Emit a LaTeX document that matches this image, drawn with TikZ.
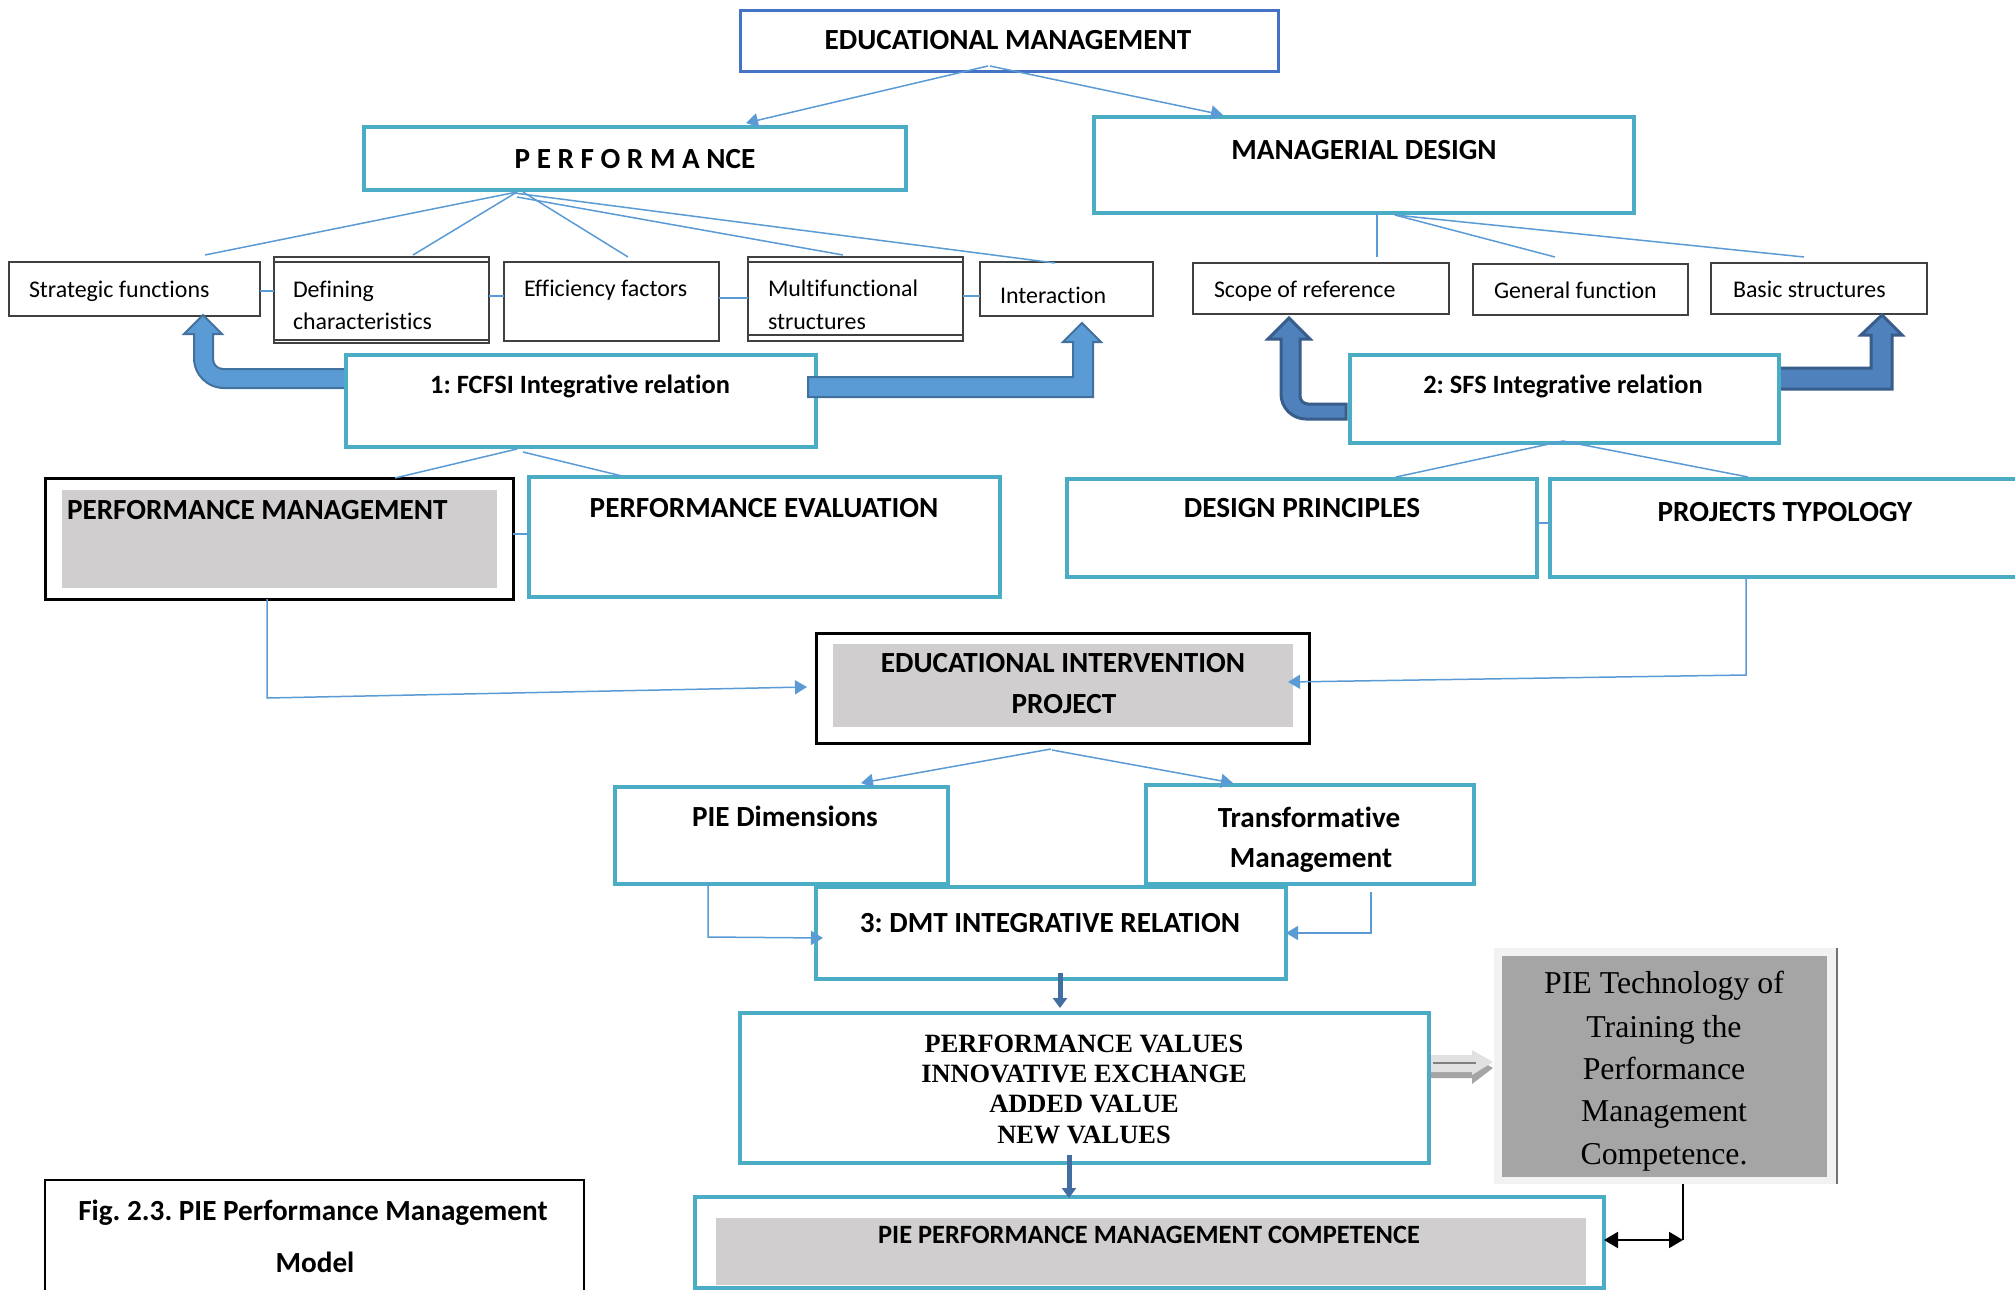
\documentclass[tikz,border=0pt]{standalone}
\usepackage{fontspec}
\setmainfont[Ligatures=NoCommon]{Carlito}
\newfontfamily\tnr{Liberation Serif}
\usetikzlibrary{arrows.meta,calc}
\frenchspacing
\definecolor{teal1}{HTML}{4BACC6}
\definecolor{emblue}{HTML}{4472C4}
\definecolor{conn}{HTML}{5B9BD5}
\definecolor{bfill}{HTML}{5B9BD5}
\definecolor{bdraw}{HTML}{41719C}
\definecolor{dfill}{HTML}{4F81BD}
\definecolor{ddraw}{HTML}{385D8A}
\definecolor{lgray}{HTML}{D0CECE}
\definecolor{mgray}{HTML}{A5A5A5}
\definecolor{pgray}{HTML}{F2F2F2}
\definecolor{boxline}{HTML}{404040}
\newcommand\mkbox[6]{%
  \pgfmathsetmacro\mkbw{(#5-#3)*0.5}%
  \pgfmathsetmacro\mkbh{(#6-#4)*0.5}%
  \pgfmathsetmacro\mkbx{(#3+#5)/2}%
  \pgfmathsetmacro\mkby{(#4+#6)/2}%
  \node[#1,minimum width=\mkbw pt,minimum height=\mkbh pt] (#2) at (\mkbx,\mkby) {};}
\begin{document}
\begin{tikzpicture}[x=0.5pt,y=-0.5pt,
  every node/.style={inner sep=0pt,outer sep=0pt,rectangle},
  tealbox/.style={draw=teal1,line width=2.25pt},
  embox/.style={draw=emblue,line width=1.5pt},
  thinbox/.style={draw=boxline,line width=1pt},
  blackbox/.style={draw=black,line width=1.5pt},
  graybox/.style={fill=lgray},
  figbox/.style={draw=black,line width=1pt},
  piebox/.style={fill=pgray},
  pieinner/.style={fill=mgray},
  thinline/.style={draw=boxline,line width=1pt},
  conline/.style={draw=conn,line width=0.75pt},
  conarrow/.style={conline,-{Triangle[length=6pt,width=7pt]}},
  linkline/.style={draw=conn,line width=1.2pt},
  hd/.style={font=\fontsize{14.6}{17}\selectfont\bfseries,anchor=base},
  mid/.style={font=\fontsize{13.2}{16}\selectfont\bfseries,anchor=base},
  sm/.style={font=\fontsize{11.95}{14}\selectfont,anchor=base west},
  tv/.style={font=\tnr\fontsize{13.2}{15}\selectfont\bfseries,anchor=base},
  tt/.style={font=\tnr\fontsize{15.9}{19}\selectfont,anchor=base},
  blockA/.style={fill=bfill,draw=bdraw,line width=1pt},
  blockB/.style={fill=dfill,draw=ddraw,line width=1.5pt},
  downarrow/.style={draw=dfill!85!black,line width=2.5pt,-{Triangle[length=5pt,width=7pt]}}
]
\useasboundingbox (0,0) rectangle (2015,1290);
\clip (0,0) rectangle (2015,1290);
\fill[white] (0,0) rectangle (2015,1290);

% ---------- boxes ----------
\mkbox{embox}{em}{740}{10}{1278}{71}
\mkbox{tealbox}{perf}{364}{127}{906}{190}
\mkbox{tealbox}{md}{1094}{117}{1634}{213}
\mkbox{thinbox}{sf}{9}{262}{260}{316}
\mkbox{thinbox}{dc}{274}{257}{489}{343}
\mkbox{thinbox}{ef}{504}{262}{719}{341}
\mkbox{thinbox}{mf}{748}{257}{963}{341}
\mkbox{thinbox}{ia}{980}{262}{1153}{316}
\mkbox{thinbox}{sr}{1193}{263}{1449}{314}
\mkbox{thinbox}{gf}{1473}{264}{1688}{315}
\mkbox{thinbox}{bs}{1711}{263}{1927}{314}
\draw[thinline] ($(dc.north west)+(0,5)$) -- ($(dc.north east)+(0,5)$);
\draw[thinline] ($(dc.south west)+(0,-3)$) -- ($(dc.south east)+(0,-3)$);
\draw[thinline] ($(mf.north west)+(0,5)$) -- ($(mf.north east)+(0,5)$);
\draw[thinline] ($(mf.south west)+(0,-6)$) -- ($(mf.south east)+(0,-6)$);

% block arrows (left side, behind boxes)
\path[blockA] (346,369) -- (223,369) to[out=180,in=-90] (213,359) -- (213,334) -- (222,334) -- (203,315) -- (184,334) -- (194,334) -- (194,358) to[out=-90,in=180] (224,388) -- (346,388) -- cycle;
\path[blockB] (1346,404) -- (1308,404) to[out=180,in=-90] (1300,396) -- (1300,339) -- (1310,339) -- (1289,318) -- (1268,339) -- (1281,339) -- (1281,394) to[out=-90,in=180] (1306,419) -- (1346,419) -- cycle;
\path[blockB] (1779,368) -- (1871,368) -- (1871,335) -- (1861,335) -- (1882,315) -- (1902,335) -- (1892,335) -- (1892,389) -- (1779,389) -- cycle;

\mkbox{tealbox}{fc}{346}{355}{816}{447}
\mkbox{tealbox}{sfs}{1350}{355}{1779}{443}
\path[blockA] (808,377) -- (1073,377) -- (1073,342) -- (1063,342) -- (1082,323) -- (1101,342) -- (1093,342) -- (1093,397) -- (808,397) -- cycle;

\mkbox{blackbox}{pm}{45}{478}{513}{599}
\mkbox{graybox}{pmIn}{62}{490}{497}{588}
\mkbox{tealbox}{pe}{529}{477}{1000}{597}
\mkbox{tealbox}{dp}{1067}{479}{1537}{577}
\mkbox{tealbox}{pt}{1550}{479}{2030}{577}
\mkbox{blackbox}{eip}{816}{633}{1309}{743}
\mkbox{graybox}{eipIn}{833}{644}{1293}{727}
\mkbox{tealbox}{pd}{615}{787}{948}{884}
\mkbox{tealbox}{tm}{1146}{785}{1474}{884}
\mkbox{tealbox}{dmt}{816}{887}{1286}{979}
\mkbox{tealbox}{vals}{740}{1013}{1429}{1163}
\mkbox{tealbox}{comp}{695}{1197}{1604}{1288}
\mkbox{graybox}{compIn}{716}{1218}{1586}{1285}
\mkbox{figbox}{fig}{45}{1180}{584}{1330}
\mkbox{piebox}{pie}{1494}{948}{1837}{1184}
\mkbox{pieinner}{pieIn}{1502}{956}{1827}{1177}
\draw[black!55,line width=1pt] (pie.north east) -- (pie.south east);

% ---------- texts ----------
\node[hd] (emT) at (1008,49) {EDUCATIONAL MANAGEMENT};
\node[hd] (perfT) at (635,168) {P E R F O R M A NCE};
\node[hd] (mdT) at (1364,159) {MANAGERIAL DESIGN};
\node[sm] (sfT) at (29,297) {Strategic functions};
\node[sm] (dcT1) at (293,297) {Defining};
\node[sm] (dcT2) at (293,329) {characteristics};
\node[sm] (efT) at (524,296) {Efficiency factors};
\node[sm] (mfT1) at (768,296) {Multifunctional};
\node[sm] (mfT2) at (768,329) {structures};
\node[sm] (iaT) at (1000,303) {Interaction};
\node[sm] (srT) at (1214,297) {Scope of reference};
\node[sm] (gfT) at (1494,298) {General function};
\node[sm] (bsT) at (1733,297) {Basic structures};
\node[mid] (fcT) at (580,393) {1: FCFSI Integrative relation};
\node[mid] (sfsT) at (1563,393) {2: SFS Integrative relation};
\node[hd,anchor=base west] (pmT) at (67,519) {PERFORMANCE MANAGEMENT};
\node[hd] (peT) at (764,517) {PERFORMANCE EVALUATION};
\node[hd] (dpT) at (1302,517) {DESIGN PRINCIPLES};
\node[hd] (ptT) at (1785,521) {PROJECTS TYPOLOGY};
\node[hd] (eipT1) at (1063,672) {EDUCATIONAL INTERVENTION};
\node[hd] (eipT2) at (1064,713) {PROJECT};
\node[hd] (pdT) at (785,826) {PIE Dimensions};
\node[hd] (tmT1) at (1309,827) {Transformative};
\node[hd] (tmT2) at (1311,867) {Management};
\node[hd] (dmtT) at (1050,932) {3: DMT INTEGRATIVE RELATION};
\node[tv] (vT1) at (1084,1052) {PERFORMANCE VALUES};
\node[tv] (vT2) at (1084,1082) {INNOVATIVE EXCHANGE};
\node[tv] (vT3) at (1084,1112) {ADDED VALUE};
\node[tv] (vT4) at (1084,1143) {NEW VALUES};
\node[mid] (compT) at (1149,1243) {PIE PERFORMANCE MANAGEMENT COMPETENCE};
\node[hd] (figT1) at (313,1220) {Fig. 2.3. PIE Performance Management};
\node[hd] (figT2) at (315,1272) {Model};
\node[tt] (pieT1) at (1664,993) {PIE Technology of};
\node[tt] (pieT2) at (1664,1037) {Training the};
\node[tt] (pieT3) at (1664,1079) {Performance};
\node[tt] (pieT4) at (1664,1121) {Management};
\node[tt] (pieT5) at (1664,1164) {Competence.};

% ---------- connectors ----------
\draw[conarrow] ($(em.south)+(-21,-5)$) -- ($(perf.north)+(111,-4)$);
\draw[conarrow] ($(em.south)+(-19,-5)$) -- ($(md.north)+(-141,-2)$);

\draw[conline] ($(perf.south)+(-118,2)$) -- ($(sf.north)+(70.5,-7)$);
\draw[conline] ($(perf.south)+(-118,2)$) -- ($(dc.north)+(31.5,-2)$);
\draw[conline] ($(perf.south)+(-112,2)$) -- ($(ef.north)+(16.5,-5)$);
\draw[conline] ($(perf.south)+(-118,7)$) -- ($(mf.north)+(-12.5,-2)$);
\draw[conline] ($(perf.south)+(-121,3)$) -- ($(ia.north)+(-11.5,1)$);

\draw[conline] ($(md.south)+(13,0)$) -- ($(sr.north)+(56,-6)$);
\draw[conline] ($(md.south)+(31,2)$) -- ($(gf.north)+(-25.5,-7)$);
\draw[conline] ($(md.south)+(31,2)$) -- ($(bs.north)+(-15,-6)$);

\draw[linkline] ($(sf.east)+(0,2)$) -- ($(dc.west)+(0,-9)$);
\draw[linkline] ($(dc.east)+(0,-4)$) -- ($(ef.west)+(0,-5.5)$);
\draw[linkline] ($(ef.east)+(0,-3.5)$) -- ($(mf.west)+(0,-1)$);
\draw[linkline] ($(mf.east)+(0,-3)$) -- ($(ia.west)+(0,7)$);
\draw[linkline] ($(pm.east)+(0,-4.5)$) -- ($(pe.west)+(0,-3)$);
\draw[linkline] ($(dp.east)+(0,-5)$) -- ($(pt.west)+(0,-5)$);

\draw[conline] ($(fc.south)+(-64,2)$) -- ($(pm.north)+(116,0)$);
\draw[conline] ($(fc.south)+(-58,5)$) -- ($(pe.north)+(-142.5,-1)$);
\draw[conline] ($(sfs.south)+(-1.5,-2)$) -- ($(dp.north)+(94,-2)$);
\draw[conline] ($(sfs.south)+(-1.5,-2)$) -- ($(pt.north)+(-42,-2)$);

\draw[conarrow] ($(pm.south)+(-12,0)$) -- ++(0,99) -- ($(eip.west)+(-9,-1)$);
\draw[conarrow] ($(pt.south)+(-44,0)$) -- ++(0,98) -- ($(eip.east)+(-21,-6)$);

\draw[conarrow] ($(eip.south)+(-11.5,6)$) -- ($(pd.north)+(79.5,-4)$);
\draw[conarrow] ($(eip.south)+(-10.5,7)$) -- ($(tm.north)+(-77,-2)$);

\draw[conarrow] ($(pd.south)+(-73.5,0)$) -- ++(0,53) -- ($(dmt.west)+(7,5)$);
\draw[conarrow] ($(tm.south)+(61,8)$) -- ++(0,41) -- (dmt.east);

\draw[downarrow] ($(dmt.south)+(9,-6)$) -- ($(vals.north)+(-24.5,-5)$);
\draw[downarrow] ($(vals.south)+(-15.5,-8)$) -- ($(comp.north)+(-80.5,1)$);

% hollow block arrow values -> PIE technology
\begin{scope}[shift={(vals.east)}]
\fill[mgray] (2,-27) -- (43,-27) -- (43,-32) -- (64,-20) -- (43,-4) -- (43,-10) -- (2,-10) -- cycle;
\fill[pgray!85!gray] (2,-33) -- (43,-33) -- (43,-38) -- (64,-26) -- (43,-13) -- (43,-16) -- (2,-16) -- cycle;
\draw[gray,line width=0.6pt] (4,-25) -- (47,-25);
\end{scope}

\draw[black,line width=1pt] ($(pie.south)+(17.5,0)$) -- ++(0,56);
\draw[black,line width=1pt,{Triangle[length=7pt,width=8pt]}-{Triangle[length=7pt,width=8pt]}] ($(comp.east)+(0,-2.5)$) -- ($(pie.south)+(17.5,56)$);
\end{tikzpicture}
\end{document}
